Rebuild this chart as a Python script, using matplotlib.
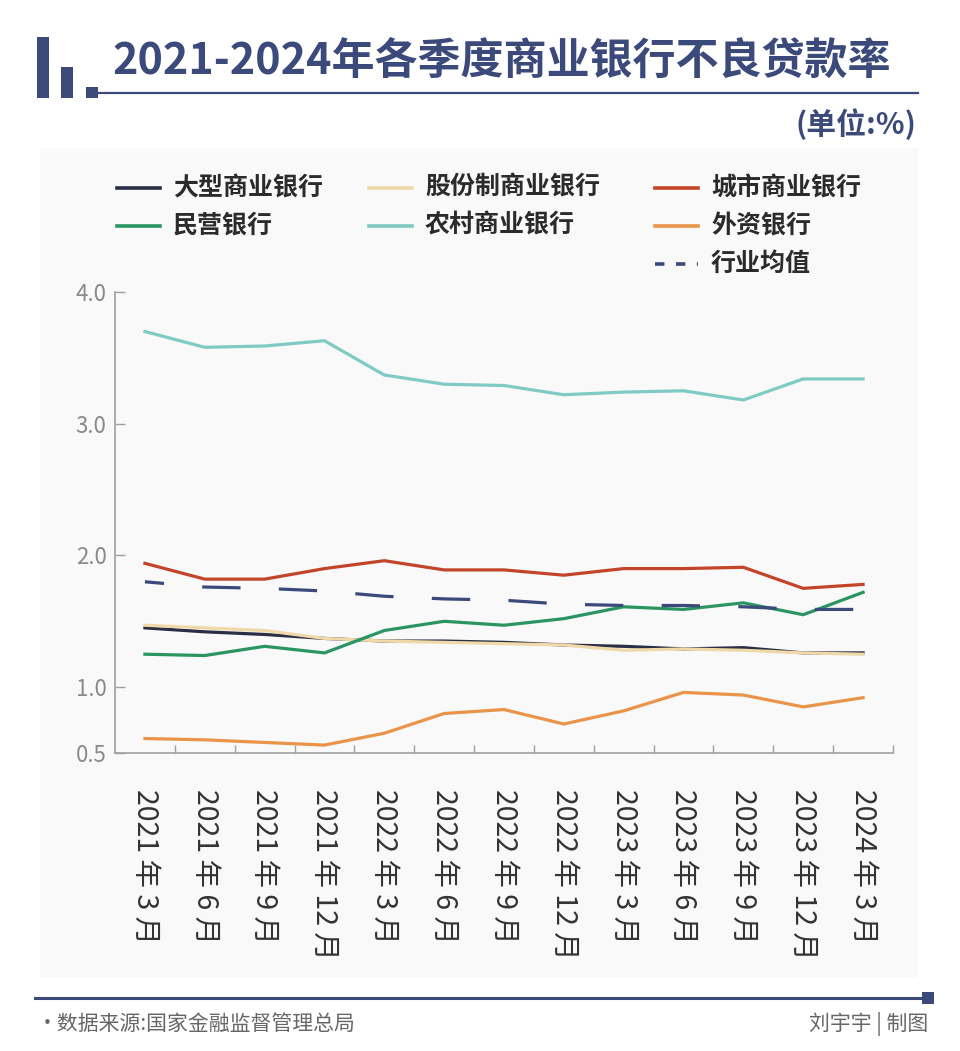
import numpy as np
import matplotlib
matplotlib.use('Agg')
import matplotlib.pyplot as plt
from matplotlib.patches import Rectangle
from matplotlib.lines import Line2D

plt.rcParams['font.family'] = ['Noto Sans CJK SC', 'DejaVu Sans']

# quarterly NPL ratio (%)
quarters = ['2021 年 3 月', '2021 年 6 月', '2021 年 9 月', '2021 年 12 月',
            '2022 年 3 月', '2022 年 6 月', '2022 年 9 月', '2022 年 12 月',
            '2023 年 3 月', '2023 年 6 月', '2023 年 9 月', '2023 年 12 月',
            '2024 年 3 月']
large_banks = [1.45, 1.42, 1.40, 1.37, 1.35, 1.35, 1.34, 1.32, 1.31, 1.29, 1.30, 1.26, 1.26]
joint_stock = [1.47, 1.45, 1.43, 1.37, 1.35, 1.34, 1.33, 1.32, 1.28, 1.29, 1.28, 1.26, 1.25]
city_banks = [1.94, 1.82, 1.82, 1.90, 1.96, 1.89, 1.89, 1.85, 1.90, 1.90, 1.91, 1.75, 1.78]
private_banks = [1.25, 1.24, 1.31, 1.26, 1.43, 1.50, 1.47, 1.52, 1.61, 1.59, 1.64, 1.55, 1.72]
rural_banks = [3.70, 3.58, 3.59, 3.63, 3.37, 3.30, 3.29, 3.22, 3.24, 3.25, 3.18, 3.34, 3.34]
foreign_banks = [0.61, 0.60, 0.58, 0.56, 0.65, 0.80, 0.83, 0.72, 0.82, 0.96, 0.94, 0.85, 0.92]
industry_avg = [1.80, 1.76, 1.75, 1.73, 1.69, 1.67, 1.66, 1.63, 1.62, 1.62, 1.61, 1.59, 1.59]

W, H = 960, 1051
navy = '#3b4a7b'

fig = plt.figure(figsize=(W / 100, H / 100), dpi=100)
fig.patch.set_facecolor('white')


def fx(px):
    return px / W


def fy(py):
    return 1 - py / H


def box(x0, y0, x1, y1, color, **kw):
    fig.add_artist(Rectangle((fx(x0), fy(y1)), fx(x1) - fx(x0), fy(y0) - fy(y1),
                             transform=fig.transFigure, facecolor=color,
                             edgecolor='none', **kw))


# light panel behind legend + plot
box(40, 148, 918, 978, '#f9f9fa', zorder=0)

# title decoration
box(37, 37, 49, 98, navy)
box(61, 67, 73, 98, navy)
box(86, 87, 98, 98, navy)
fig.add_artist(Line2D([fx(98), fx(918)], [fy(92.5), fy(92.5)], color=navy, lw=1.6,
                      transform=fig.transFigure))
fig.text(fx(112), fy(61), '2021-2024年各季度商业银行不良贷款率', fontsize=31,
         fontweight='bold', color=navy, ha='left', va='center')
fig.text(fx(916), fy(124), '(单位:%)', fontsize=21.5, fontweight='bold',
         color=navy, ha='right', va='center')

# footer
fig.add_artist(Line2D([fx(35), fx(924)], [fy(998), fy(998)], color=navy, lw=2.2,
                      transform=fig.transFigure))
box(922, 992, 934, 1004, navy)
fig.text(fx(37), fy(1024), '·数据来源:国家金融监督管理总局', fontsize=15,
         color='#666666', ha='left', va='center')
fig.text(fx(928), fy(1024), '刘宇宇 | 制图', fontsize=15,
         color='#666666', ha='right', va='center')

# plot
ax = fig.add_axes([fx(115), fy(753), fx(893) - fx(115), fy(292) - fy(753)])
ax.patch.set_alpha(0)
x = np.arange(len(quarters))

series = [
    ('大型商业银行', large_banks, '#2b2e45'),
    ('股份制商业银行', joint_stock, '#efd9a9'),
    ('城市商业银行', city_banks, '#c2452a'),
    ('民营银行', private_banks, '#2a9562'),
    ('农村商业银行', rural_banks, '#7fcbc4'),
    ('外资银行', foreign_banks, '#ea9449'),
]
for name, vals, col in series:
    ax.plot(x, vals, color=col, lw=2.3, solid_joinstyle='miter')
ax.plot(x, industry_avg, color=navy, lw=2.3, linestyle=(6, (12, 12)))

ax.set_xlim(-0.5, len(quarters) - 0.5)
ax.set_ylim(0.5, 4.0)
ax.set_yticks([0.5, 1.0, 2.0, 3.0, 4.0])
ax.set_yticklabels(['0.5', '1.0', '2.0', '3.0', '4.0'])
ax.set_xticks(x)
ax.set_xticklabels(quarters, rotation=-90, fontsize=20.5, color='#333333')
ax.set_xticks(np.arange(0.5, len(quarters), 1.0), minor=True)
ax.tick_params(axis='x', which='major', length=0, pad=26)
ax.tick_params(axis='x', which='minor', direction='in', length=5.5,
               width=1, color='#a0a0a0')
ax.tick_params(axis='y', direction='in', length=7, width=1, color='#a0a0a0',
               labelsize=16, labelcolor='#8a8a8a', pad=6)
for s in ['top', 'right']:
    ax.spines[s].set_visible(False)
for s in ['left', 'bottom']:
    ax.spines[s].set_color('#a0a0a0')
    ax.spines[s].set_linewidth(1.2)

# legend drawn by hand to keep the 3-column layout
legend_items = [
    ('大型商业银行', '#2b2e45', '-', 0, 0),
    ('股份制商业银行', '#efd9a9', '-', 1, 0),
    ('城市商业银行', '#c2452a', '-', 2, 0),
    ('民营银行', '#2a9562', '-', 0, 1),
    ('农村商业银行', '#7fcbc4', '-', 1, 1),
    ('外资银行', '#ea9449', '-', 2, 1),
    ('行业均值', navy, (0, (2.6, 3.2)), 2, 2),
]
col_x = [117, 369, 655]
row_y = [188, 226, 264]
for name, col, ls, c, r in legend_items:
    x0 = col_x[c]
    y0 = row_y[r]
    fig.add_artist(Line2D([fx(x0), fx(x0 + 43)], [fy(y0), fy(y0)], color=col,
                          lw=2.6, linestyle=ls, transform=fig.transFigure))
    fig.text(fx(x0 + 56), fy(y0), name, fontsize=18, fontweight='bold',
             color='#2b2b2b', ha='left', va='center')

fig.savefig('out.png', dpi=100)
